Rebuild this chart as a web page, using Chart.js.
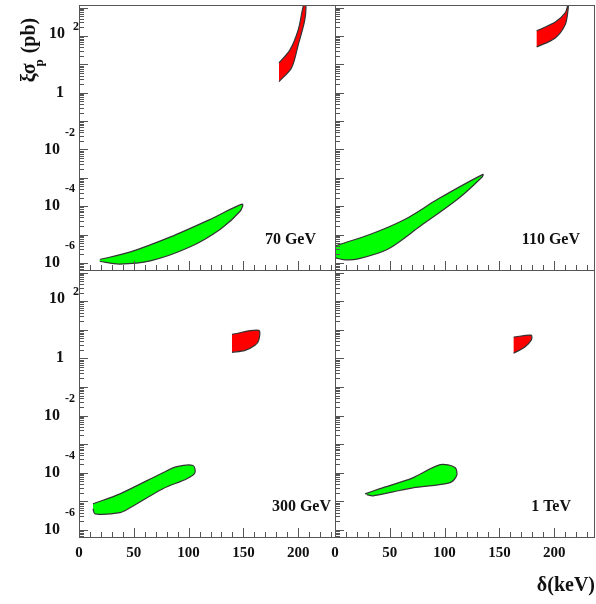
<!DOCTYPE html>
<html>
<head>
<meta charset="utf-8">
<script src="https://cdn.jsdelivr.net/npm/chart.js@4.4.0/dist/chart.umd.min.js"></script>
<style>
  body { margin: 0; background: #fff; }
  #wrap { position: relative; width: 596px; height: 604px; }
  canvas { position: absolute; left: 0; top: 0; }
</style>
</head>
<body>
<div id="wrap">
  <canvas id="tl" width="596" height="604"></canvas>
  <canvas id="tr" width="596" height="604"></canvas>
  <canvas id="bl" width="596" height="604"></canvas>
  <canvas id="br" width="596" height="604"></canvas>
</div>
<script>
// delta (keV) and log10(xi*sigma_p / pb) for each allowed region
const tlGreenX   = [19, 47, 83, 120, 149, 147, 129, 101, 65, 37, 19];
const tlGreenLog = [-5.88, -5.61, -5.09, -4.46, -3.93, -4.18, -4.81, -5.44, -5.93, -6.04, -5.95];
const tlRedX     = [182.5, 192.5, 200, 205, 207, 206, 200, 194, 182.5];
const tlRedLog   = [1.05, 1.51, 2.21, 3.1, 3.1, 2.56, 1.68, 0.88, 0.39];

const trGreenX   = [0, 33, 64, 94, 135, 134, 112, 78, 48.5, 21, 9, 0];
const trGreenLog = [-5.4, -4.98, -4.46, -3.75, -2.88, -2.98, -3.75, -4.7, -5.51, -5.86, -5.89, -5.82];
const trRedX     = [184, 201, 210, 212.6, 212.6, 210, 201, 184];
const trRedLog   = [2.18, 2.49, 2.81, 3.1, 2.91, 2.39, 1.93, 1.61];

const blGreenX   = [12.8, 37.4, 76.6, 89.4, 104, 105.8, 98.5, 76.6, 46.5, 37.4, 14.6, 12.8];
const blGreenLog = [-5.09, -4.74, -4.0, -3.79, -3.75, -4.0, -4.21, -4.56, -5.23, -5.40, -5.44, -5.26];
const blRedX     = [139.6, 164, 164, 160.6, 151.5, 139.6];
const blRedLog   = [0.84, 0.98, 0.63, 0.46, 0.28, 0.21];

const brGreenX   = [27.4, 41, 71, 96, 109.5, 111, 105, 71, 53, 34.7, 29];
const brGreenLog = [-4.74, -4.56, -4.18, -3.72, -3.82, -4.1, -4.35, -4.53, -4.67, -4.81, -4.77];
const brRedX     = [163, 179, 179, 173, 163];
const brRedLog   = [0.74, 0.81, 0.63, 0.39, 0.18];

const panelLabels = ['70 GeV', '110 GeV', '300 GeV', '1 TeV'];
const xTicks = [0, 50, 100, 150, 200];
const yExps  = [2, 0, -2, -4, -6];

const SERIF = '"Liberation Serif", "DejaVu Serif", serif';

function pts(xs, ls) {
  return xs.map((x, i) => ({ x: x, y: Math.pow(10, ls[i]) }));
}

function region(xs, ls, color) {
  return {
    data: pts(xs, ls),
    showLine: true,
    fill: 'shape',
    backgroundColor: color,
    borderColor: '#333',
    borderWidth: 1.2,
    pointRadius: 0,
    tension: 0.3
  };
}

const panels = [
  { id: 'tl', area: [79, 5, 335, 270], xmax: 233.6, green: [tlGreenX, tlGreenLog], red: [tlRedX, tlRedLog], label: panelLabels[0], lx: 316, ly: 244, left: true, bottom: false },
  { id: 'tr', area: [335, 5, 594, 270], xmax: 236.3, green: [trGreenX, trGreenLog], red: [trRedX, trRedLog], label: panelLabels[1], lx: 580, ly: 244, left: false, bottom: false },
  { id: 'bl', area: [79, 270, 335, 537], xmax: 233.6, green: [blGreenX, blGreenLog], red: [blRedX, blRedLog], label: panelLabels[2], lx: 331, ly: 511, left: true, bottom: true },
  { id: 'br', area: [335, 270, 594, 537], xmax: 236.3, green: [brGreenX, brGreenLog], red: [brRedX, brRedLog], label: panelLabels[3], lx: 571, ly: 511, left: false, bottom: true }
];

const YMIN = Math.pow(10, -6.25), YMAX = Math.pow(10, 3.09);

function framePlugin(p) {
  return {
    id: 'frame_' + p.id,
    afterDraw(chart) {
      const c = chart.ctx, a = chart.chartArea;
      const xs = chart.scales.x, ys = chart.scales.y;
      c.save();
      c.strokeStyle = '#555';
      c.lineWidth = 1;
      c.strokeRect(a.left + 0.5, a.top + 0.5, a.right - a.left, a.bottom - a.top);
      // x ticks, inward from bottom
      c.beginPath();
      for (let v = 0; v <= p.xmax; v += 10) {
        const px = Math.round(xs.getPixelForValue(v)) + 0.5;
        const len = v % 50 === 0 ? 9 : 5;
        c.moveTo(px, a.bottom);
        c.lineTo(px, a.bottom - len);
      }
      // y ticks, inward from left
      for (let e = -7; e <= 3; e++) {
        for (let m = 1; m <= 9; m++) {
          const v = m * Math.pow(10, e);
          if (v < YMIN || v > YMAX) continue;
          const py = Math.round(ys.getPixelForValue(v)) + 0.5;
          const len = m === 1 ? 9 : 5;
          c.moveTo(a.left, py);
          c.lineTo(a.left + len, py);
        }
      }
      c.stroke();

      c.fillStyle = '#111';
      c.font = 'bold 16px ' + SERIF;
      c.textAlign = 'right';
      c.textBaseline = 'alphabetic';
      c.fillText(p.label, p.lx, p.ly);

      if (p.bottom) {
        c.font = 'bold 15px ' + SERIF;
        c.textAlign = 'center';
        c.textBaseline = 'top';
        xTicks.forEach(v => c.fillText(String(v), xs.getPixelForValue(v), a.bottom + 9));
      }
      if (p.left) {
        c.textBaseline = 'middle';
        yExps.forEach(e => {
          const py = ys.getPixelForValue(Math.pow(10, e));
          if (e === 0) {
            c.font = 'bold 16px ' + SERIF;
            c.textAlign = 'right';
            c.fillText('1', 64, py);
          } else if (e > 0) {
            c.font = 'bold 16px ' + SERIF;
            c.textAlign = 'right';
            c.fillText('10', 65, py - 2);
            c.font = 'bold 12px ' + SERIF;
            c.textAlign = 'left';
            c.fillText(String(e), 73, py - 9);
          } else {
            c.font = 'bold 16px ' + SERIF;
            c.textAlign = 'right';
            c.fillText('10', 60, py);
            c.font = 'bold 12px ' + SERIF;
            c.textAlign = 'left';
            c.fillText(String(e), 65, py - 17);
          }
        });
      }
      if (p.id === 'br') {
        c.font = 'bold 20px ' + SERIF;
        c.textAlign = 'right';
        c.textBaseline = 'alphabetic';
        c.fillText('δ(keV)', 595, 591);
      }
      if (p.id === 'tl') {
        c.translate(30, 50);
        c.rotate(-Math.PI / 2);
        c.textAlign = 'center';
        c.textBaseline = 'middle';
        c.font = 'bold 20px ' + SERIF;
        c.fillText('ξσ  (pb)', 0, 0);
        c.font = 'bold 13px ' + SERIF;
        c.fillText('p', -13, 10);
      }
      c.restore();
    }
  };
}

panels.forEach(p => {
  const a = p.area;
  new Chart(document.getElementById(p.id), {
    type: 'scatter',
    data: {
      datasets: [
        region(p.green[0], p.green[1], '#00ff00'),
        region(p.red[0], p.red[1], '#ff0000')
      ]
    },
    options: {
      responsive: false,
      animation: false,
      events: [],
      layout: { padding: { left: a[0], top: a[1], right: 596 - a[2], bottom: 604 - a[3] } },
      plugins: { legend: { display: false }, tooltip: { enabled: false } },
      scales: {
        x: { type: 'linear', min: 0, max: p.xmax, display: false },
        y: { type: 'logarithmic', min: YMIN, max: YMAX, display: false }
      }
    },
    plugins: [framePlugin(p)]
  });
});
</script>
</body>
</html>
